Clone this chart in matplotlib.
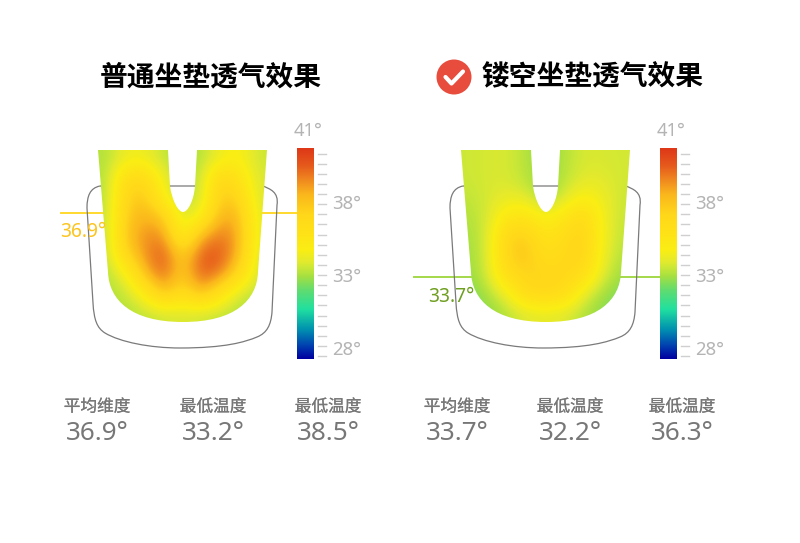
import numpy as np
import matplotlib
matplotlib.use("Agg")
import matplotlib.pyplot as plt
import matplotlib.patheffects as pe
from matplotlib.colors import LinearSegmentedColormap
from matplotlib.path import Path
from matplotlib.patches import PathPatch, Circle

plt.rcParams['font.family'] = ['Noto Sans CJK SC', 'DejaVu Sans']

titles = ["普通坐垫透气效果", "镂空坐垫透气效果"]
stat_labels = [["平均维度", "最低温度", "最低温度"], ["平均维度", "最低温度", "最低温度"]]
stat_values = [["36.9°", "33.2°", "38.5°"], ["33.7°", "32.2°", "36.3°"]]
scale_labels = ["41°", "38°", "33°", "28°"]
mean_temp = ["36.9°", "33.7°"]

# temperatures, rows top to bottom, columns left to right
temps_normal = [
    [33.2, 34.4, 34.4, 33.4, 33.2, 33.2, 34.4, 35.0, 33.6],
    [33.2, 36.8, 37.0, 34.2, 33.2, 33.4, 37.4, 36.0, 33.8],
    [33.2, 37.4, 38.0, 34.8, 33.2, 33.6, 37.8, 37.4, 33.8],
    [33.3, 37.8, 38.8, 38.0, 33.6, 34.8, 38.8, 38.6, 34.0],
    [33.3, 38.2, 39.4, 39.6, 34.6, 38.8, 40.0, 39.0, 34.0],
    [33.3, 37.2, 39.4, 40.8, 37.4, 40.6, 40.8, 38.6, 33.8],
    [33.2, 34.4, 38.4, 40.4, 37.6, 40.6, 39.8, 37.0, 33.5],
    [33.2, 33.4, 35.0, 38.4, 36.4, 38.6, 36.0, 33.6, 33.3],
    [33.2, 33.2, 33.4, 33.6, 33.8, 33.6, 33.4, 33.2, 33.2],
]
temps_hollow = [
    [33.6, 33.8, 33.8, 33.2, 32.6, 33.2, 33.8, 33.8, 33.7],
    [33.6, 33.8, 33.8, 33.3, 32.6, 33.3, 34.0, 34.0, 33.7],
    [33.4, 33.8, 34.2, 34.0, 32.8, 33.8, 35.0, 34.4, 33.6],
    [33.2, 33.8, 35.6, 35.8, 34.6, 35.6, 37.0, 34.6, 33.5],
    [33.0, 33.9, 37.4, 37.6, 35.8, 36.6, 37.6, 34.6, 33.4],
    [32.9, 33.9, 37.6, 38.0, 36.4, 37.0, 37.6, 34.4, 33.2],
    [32.8, 33.8, 36.8, 37.4, 37.2, 37.2, 36.6, 34.0, 32.9],
    [32.4, 33.2, 34.4, 37.0, 37.2, 36.8, 34.2, 33.0, 32.4],
    [32.2, 32.6, 33.3, 33.9, 34.1, 33.9, 33.2, 32.6, 32.2],
]
grids = [temps_normal, temps_hollow]

# colour scale, temperature -> colour
scale_temps = [27.3, 28.2, 29.3, 30.7, 32.0, 33.0, 33.6, 34.0, 34.8, 36.2, 37.2, 38.6, 39.6, 40.6, 41.8]
scale_colors = ["#0000a0", "#0040b0", "#0090b0", "#20e0a0", "#60dc70", "#a8e040", "#cde836", "#e4ea2c",
                "#faee14", "#ffe018", "#ffd81a", "#fbb81c", "#f08a20", "#e65a1c", "#de3818"]
t_min, t_max = scale_temps[0], scale_temps[-1]
pos = [(t - t_min) / (t_max - t_min) for t in scale_temps]
cmap = LinearSegmentedColormap.from_list("seat", list(zip(pos, scale_colors)), N=512)

fig = plt.figure(figsize=(8, 5.43), dpi=100)
ax = fig.add_axes([0, 0, 1, 1])
ax.set_xlim(0, 800)
ax.set_ylim(543, 0)
ax.axis('off')


def seat_outline(dx):
    verts = [(100, 186), (90, 188), (87, 196), (87, 208), (93, 303), (94, 320), (97, 328), (105, 333),
             (120, 342), (150, 348), (180, 348), (225, 348), (245, 342), (257, 337),
             (267, 333), (271, 325), (272, 312), (277, 205), (279, 192), (270, 189), (263, 186), (100, 186)]
    codes = [Path.MOVETO, Path.CURVE4, Path.CURVE4, Path.CURVE4, Path.LINETO, Path.CURVE4, Path.CURVE4, Path.CURVE4,
             Path.CURVE4, Path.CURVE4, Path.CURVE4, Path.CURVE4, Path.CURVE4, Path.CURVE4,
             Path.CURVE4, Path.CURVE4, Path.CURVE4, Path.LINETO, Path.CURVE4, Path.CURVE4, Path.CURVE4, Path.LINETO]
    return Path([(x + dx, y) for x, y in verts], codes)


def heat_shape(dx):
    verts = [(98, 150), (168, 150), (170, 186), (172, 200), (178, 212), (183, 212), (188, 212), (194, 200), (195, 186),
             (197, 150), (267, 150), (258, 272), (257, 300), (235, 322), (183, 322), (131, 322), (109, 300), (108, 272),
             (98, 150)]
    codes = [Path.MOVETO, Path.LINETO, Path.LINETO, Path.CURVE4, Path.CURVE4, Path.CURVE4, Path.CURVE4, Path.CURVE4,
             Path.CURVE4, Path.LINETO, Path.LINETO, Path.LINETO, Path.CURVE4, Path.CURVE4, Path.CURVE4, Path.CURVE4,
             Path.CURVE4, Path.CURVE4, Path.LINETO]
    return Path([(x + dx, y) for x, y in verts], codes)


offsets = [0, 363]
line_y = [213, 277]
line_x = [(61, 297), (414, 663)]
line_colors = ["#ffd92e", "#a4d84a"]
text_colors = ["#fcc41e", "#6f9f20"]
text_pos = [(60, 232), (428, 297)]
title_x = [211, 593]
label_x = [(97, 213, 328), (457, 570, 682)]
thicken = [pe.withStroke(linewidth=0.15, foreground='#777777')]

for i, dx in enumerate(offsets):
    ax.plot(line_x[i], [line_y[i], line_y[i]], color=line_colors[i], lw=1.4, zorder=1)
    ax.add_patch(PathPatch(seat_outline(dx), fc='none', ec='#7a7a7a', lw=0.9, zorder=2))

    im = ax.imshow(np.array(grids[i]), cmap=cmap, vmin=t_min, vmax=t_max, interpolation='bicubic',
                   extent=(98 + dx, 267 + dx, 322, 150), aspect='auto', zorder=3)
    patch = PathPatch(heat_shape(dx), fc='none', ec='none', transform=ax.transData)
    ax.add_patch(patch)
    im.set_clip_path(patch)

    # colour bar
    ax.imshow(np.linspace(t_max, t_min, 256).reshape(-1, 1), cmap=cmap, vmin=t_min, vmax=t_max,
              extent=(297 + dx, 314 + dx, 359, 148), aspect='auto', zorder=3)
    for y in np.arange(153.5, 358, 10.13):
        ax.plot([318 + dx, 326 + dx], [y, y], color='#cfcfcf', lw=1, zorder=3)
    for lab, y in zip(scale_labels, [131, 204, 277, 350]):
        x = 308 + dx if lab == "41°" else 347 + dx
        ax.text(x, y, lab, ha='center', va='center', fontsize=13.3, color='#b4b4b4', family='Noto Sans')

    ax.text(text_pos[i][0], text_pos[i][1], mean_temp[i], ha='left', va='center', fontsize=13.8,
            color=text_colors[i], family='Noto Sans', zorder=4)
    ax.text(title_x[i], 77, titles[i], ha='center', va='center', fontsize=20, fontweight='bold', color='#000000')

    for lab, val, x in zip(stat_labels[i], stat_values[i], label_x[i]):
        ax.text(x, 407, lab, ha='center', va='center', fontsize=12, color='#777777', path_effects=thicken)
        ax.text(x, 434, val, ha='center', va='center', fontsize=18.8, color='#777777', family='Noto Sans')

# red tick badge
ax.add_patch(Circle((454, 77), 17.5, fc='#e74c3c', ec='none', zorder=4))
ax.plot([445.5, 451.5, 463], [77, 83.5, 71.5], color='white', lw=3, solid_capstyle='round',
        solid_joinstyle='round', zorder=5)

ax.set_xlim(0, 800)
ax.set_ylim(543, 0)
fig.savefig("out.png", dpi=100)
